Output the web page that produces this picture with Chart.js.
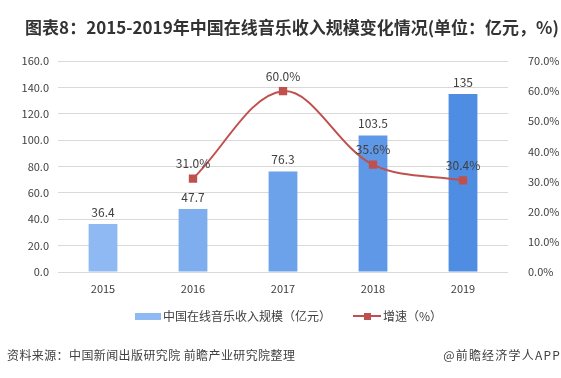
<!DOCTYPE html>
<html lang="zh">
<head>
<meta charset="UTF-8">
<title>中国在线音乐收入规模</title>
<script src="https://cdn.jsdelivr.net/npm/chart.js@4/dist/chart.umd.min.js"></script>
<style>
html, body { margin: 0; padding: 0; background: #fff; }
#wrap { position: relative; width: 561px; height: 378px; }
</style>
</head>
<body>
<div id="wrap"><canvas id="chart" width="561" height="378"></canvas></div>
<script>
// data
const years = ['2015', '2016', '2017', '2018', '2019'];
const revenue = [36.4, 47.7, 76.3, 103.5, 135];
const growth = [null, 31.0, 60.0, 35.6, 30.4];
const barColors = ['#8fb9f2', '#7eaeee', '#6ca2ea', '#5e98e6', '#4f8de2'];

const titleText = '图表8：2015-2019年中国在线音乐收入规模变化情况(单位：亿元，%)';
const sourceText = '资料来源：中国新闻出版研究院 前瞻产业研究院整理';
const brandText = '@前瞻经济学人APP';
const barLegend = '中国在线音乐收入规模（亿元）';
const lineLegend = '增速（%）';

const FONT = '"Microsoft YaHei", "Noto Sans CJK SC", "Liberation Sans", sans-serif';
const TXT = '#404040';
const RED = '#c0504d';

const extras = {
  id: 'extras',
  afterDatasetsDraw(chart) {
    const ctx = chart.ctx;
    ctx.save();
    ctx.fillStyle = TXT;
    ctx.font = '12px ' + FONT;
    ctx.textAlign = 'center';
    ctx.textBaseline = 'bottom';
    // bar value labels
    chart.getDatasetMeta(1).data.forEach((bar, i) => {
      ctx.fillText(String(revenue[i]), bar.x, bar.y - 6);
    });
    // growth labels
    chart.getDatasetMeta(0).data.forEach((pt, i) => {
      if (growth[i] == null) return;
      ctx.fillText(growth[i].toFixed(1) + '%', pt.x, pt.y - 9);
    });
    ctx.restore();
  },
  afterDraw(chart) {
    const ctx = chart.ctx;
    ctx.save();
    // title
    ctx.fillStyle = '#333333';
    ctx.font = 'bold 17px ' + FONT;
    ctx.textAlign = 'center';
    ctx.textBaseline = 'middle';
    ctx.fillText(titleText, 292, 28);

    // legend
    ctx.font = '12px ' + FONT;
    ctx.textAlign = 'left';
    ctx.fillStyle = barColors[0];
    ctx.fillRect(135, 313, 26, 7);
    ctx.fillStyle = TXT;
    ctx.fillText(barLegend, 163, 316);
    ctx.strokeStyle = RED;
    ctx.lineWidth = 2;
    ctx.beginPath();
    ctx.moveTo(353, 316);
    ctx.lineTo(381, 316);
    ctx.stroke();
    ctx.fillStyle = RED;
    ctx.fillRect(364, 313, 7, 7);
    ctx.fillStyle = TXT;
    ctx.fillText(lineLegend, 383, 316);

    // footer
    ctx.font = '12px ' + FONT;
    ctx.letterSpacing = '0.4px';
    ctx.fillText(sourceText, 7, 355);
    ctx.textAlign = 'right';
    ctx.letterSpacing = '1.2px';
    ctx.fillText(brandText, 561, 355);
    ctx.restore();
  }
};

new Chart(document.getElementById('chart'), {
  data: {
    labels: years,
    datasets: [
      {
        type: 'line',
        label: lineLegend,
        data: growth.map(v => v == null ? null : v / 100),
        yAxisID: 'y1',
        borderColor: RED,
        borderWidth: 2,
        backgroundColor: RED,
        pointStyle: 'rect',
        pointRadius: 4.5,
        pointBackgroundColor: RED,
        pointBorderColor: RED,
        tension: 0.35,
        spanGaps: false,
        order: 0
      },
      {
        type: 'bar',
        label: barLegend,
        data: revenue,
        yAxisID: 'y',
        backgroundColor: barColors,
        categoryPercentage: 1,
        barPercentage: 0.32,
        order: 1
      }
    ]
  },
  options: {
    responsive: false,
    animation: false,
    devicePixelRatio: 1,
    layout: { padding: { top: 61, left: 0, right: 0, bottom: 76 } },
    plugins: {
      legend: { display: false },
      title: { display: false },
      tooltip: { enabled: false }
    },
    scales: {
      x: {
        grid: { display: false, drawTicks: false },
        border: { display: false },
        ticks: { color: TXT, font: { size: 11, family: FONT }, padding: 10 },
        afterFit(s) { s.height = 30; }
      },
      y: {
        position: 'left',
        min: 0, max: 160,
        grid: { color: '#d9d9d9', drawTicks: false },
        border: { display: false },
        ticks: {
          stepSize: 20, color: TXT, padding: 9,
          font: { size: 11, family: FONT },
          callback: v => v.toFixed(1)
        },
        afterFit(s) { s.width = 58; }
      },
      y1: {
        position: 'right',
        min: 0, max: 0.7,
        grid: { display: false },
        border: { display: false },
        ticks: {
          stepSize: 0.1, color: TXT, padding: 12,
          font: { size: 11, family: FONT },
          callback: v => (v * 100).toFixed(1) + '%'
        },
        afterFit(s) { s.width = 53; }
      }
    }
  },
  plugins: [extras]
});
</script>
</body>
</html>
